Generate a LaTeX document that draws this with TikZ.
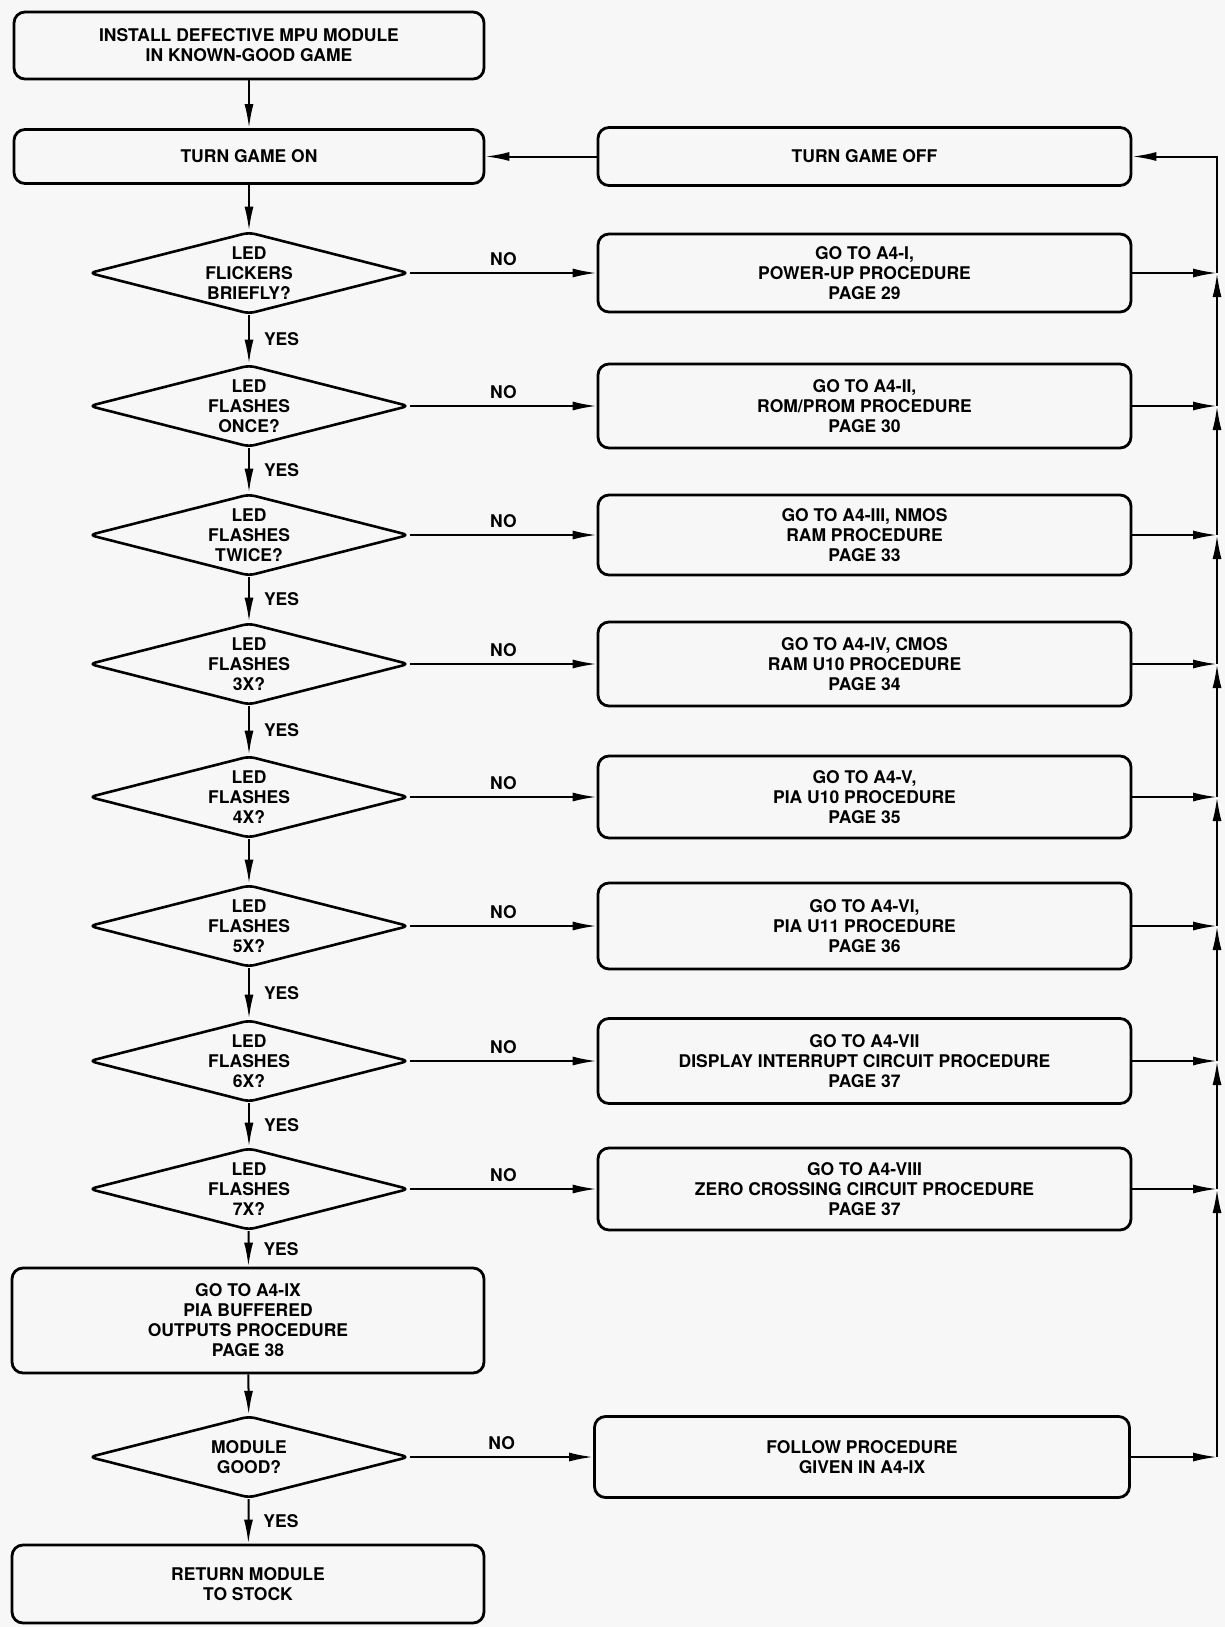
\documentclass[tikz,border=0pt]{standalone}
\usepackage{fontspec}
\setmainfont{TeX Gyre Heros}
\usetikzlibrary{arrows.meta,shapes.geometric,calc}
\begin{document}
\begin{tikzpicture}[x=1pt,y=-1pt,
  every node/.style={font=\bfseries\fontsize{17.5}{20}\selectfont},
  lbox/.style={draw, line width=2.8pt, rounded corners=11pt, align=center, inner sep=0pt, minimum width=470pt},
  rbox/.style={draw, line width=2.8pt, rounded corners=11pt, align=center, inner sep=0pt, minimum width=533pt},
  dia/.style={draw, line width=2.6pt, shape=diamond, aspect=3.5, inner sep=0pt, rounded corners=6pt, align=center, minimum width=320pt, minimum height=82pt},
  arr/.style={line width=2pt, -{Latex[length=24pt,width=9pt]}},
  lbl/.style={inner sep=0pt}
]
\fill[black!3] (0,0) rectangle (1225,1627);
\useasboundingbox (0,0) rectangle (1225,1627);

% left column
\node[lbox, minimum height=67pt] (install) at (249,45.5) {INSTALL DEFECTIVE MPU MODULE\\IN KNOWN-GOOD GAME};
\node[lbox, minimum height=54pt] (turnon) at (249,156.5) {TURN GAME ON};
\node[dia] (d1) at (249,273) {LED\\FLICKERS\\BRIEFLY?};
\node[dia] (d2) at (249,406) {LED\\FLASHES\\ONCE?};
\node[dia] (d3) at (249,535) {LED\\FLASHES\\TWICE?};
\node[dia] (d4) at (249,664) {LED\\FLASHES\\3X?};
\node[dia] (d5) at (249,797) {LED\\FLASHES\\4X?};
\node[dia] (d6) at (249,926) {LED\\FLASHES\\5X?};
\node[dia] (d7) at (249,1061) {LED\\FLASHES\\6X?};
\node[dia] (d8) at (249,1189) {LED\\FLASHES\\7X?};
\node[lbox, minimum width=472pt, minimum height=105pt] (ix) at (248,1320.5) {GO TO A4-IX\\PIA BUFFERED\\OUTPUTS PROCEDURE\\PAGE 38};
\node[dia] (d9) at (249,1457) {MODULE\\GOOD?};
\node[lbox, minimum width=472pt, minimum height=78pt] (ret) at (248,1584) {RETURN MODULE\\TO STOCK};

% right column
\node[rbox, minimum height=58pt] (turnoff) at (864.5,156.5) {TURN GAME OFF};
\node[rbox, minimum height=78pt] (b1) at (864.5,273) {GO TO A4-I,\\POWER-UP PROCEDURE\\PAGE 29};
\node[rbox, minimum height=84pt] (b2) at (864.5,406) {GO TO A4-II,\\ROM/PROM PROCEDURE\\PAGE 30};
\node[rbox, minimum height=80pt] (b3) at (864.5,535) {GO TO A4-III, NMOS\\RAM PROCEDURE\\PAGE 33};
\node[rbox, minimum height=84pt] (b4) at (864.5,664) {GO TO A4-IV, CMOS\\RAM U10 PROCEDURE\\PAGE 34};
\node[rbox, minimum height=82pt] (b5) at (864.5,797) {GO TO A4-V,\\PIA U10 PROCEDURE\\PAGE 35};
\node[rbox, minimum height=86pt] (b6) at (864.5,926) {GO TO A4-VI,\\PIA U11 PROCEDURE\\PAGE 36};
\node[rbox, minimum height=85pt] (b7) at (864.5,1061) {GO TO A4-VII\\DISPLAY INTERRUPT CIRCUIT PROCEDURE\\PAGE 37};
\node[rbox, minimum height=82pt] (b8) at (864.5,1189) {GO TO A4-VIII\\ZERO CROSSING CIRCUIT PROCEDURE\\PAGE 37};
\node[rbox, minimum width=535pt, minimum height=81pt] (follow) at (862,1457) {FOLLOW PROCEDURE\\GIVEN IN A4-IX};

% return line coordinates
\coordinate (rx) at (1217,0);
\coordinate (j0) at (turnoff.east -| rx);
\coordinate (j1) at (b1.east -| rx);
\coordinate (j2) at (b2.east -| rx);
\coordinate (j3) at (b3.east -| rx);
\coordinate (j4) at (b4.east -| rx);
\coordinate (j5) at (b5.east -| rx);
\coordinate (j6) at (b6.east -| rx);
\coordinate (j7) at (b7.east -| rx);
\coordinate (j8) at (b8.east -| rx);
\coordinate (j9) at (follow.east -| rx);

% spine
\draw[arr] (install) -- (turnon);
\draw[arr] (turnon) -- (d1);
\draw[arr] (d1) -- node[lbl, right=14pt] {YES} (d2);
\draw[arr] (d2) -- node[lbl, right=14pt] {YES} (d3);
\draw[arr] (d3) -- node[lbl, right=14pt] {YES} (d4);
\draw[arr] (d4) -- node[lbl, right=14pt] {YES} (d5);
\draw[arr] (d5) -- (d6);
\draw[arr] (d6) -- node[lbl, right=14pt] {YES} (d7);
\draw[arr] (d7) -- node[lbl, right=14pt] {YES} (d8);
\draw[arr] (d8) -- node[lbl, right=14pt] {YES} (ix);
\draw[arr] (ix) -- (d9);
\draw[arr] (d9) -- node[lbl, right=14pt] {YES} (ret);

% NO branches
\draw[arr] (d1.east) -- node[lbl, above=6pt] {NO} (b1.west);
\draw[arr] (d2.east) -- node[lbl, above=6pt] {NO} (b2.west);
\draw[arr] (d3.east) -- node[lbl, above=6pt] {NO} (b3.west);
\draw[arr] (d4.east) -- node[lbl, above=6pt] {NO} (b4.west);
\draw[arr] (d5.east) -- node[lbl, above=6pt] {NO} (b5.west);
\draw[arr] (d6.east) -- node[lbl, above=6pt] {NO} (b6.west);
\draw[arr] (d7.east) -- node[lbl, above=6pt] {NO} (b7.west);
\draw[arr] (d8.east) -- node[lbl, above=6pt] {NO} (b8.west);
\draw[arr] (d9.east) -- node[lbl, above=6pt] {NO} (follow.west);

% turn off -> turn on
\draw[arr] (turnoff.west) -- (turnon.east);

% outputs to return line
\draw[arr] (b1.east) -- (j1);
\draw[arr] (b2.east) -- (j2);
\draw[arr] (b3.east) -- (j3);
\draw[arr] (b4.east) -- (j4);
\draw[arr] (b5.east) -- (j5);
\draw[arr] (b6.east) -- (j6);
\draw[arr] (b7.east) -- (j7);
\draw[arr] (b8.east) -- (j8);
\draw[arr] (follow.east) -- (j9);

% return line upward
\draw[arr] (j9) -- (j8);
\draw[arr] (j8) -- (j7);
\draw[arr] (j7) -- (j6);
\draw[arr] (j6) -- (j5);
\draw[arr] (j5) -- (j4);
\draw[arr] (j4) -- (j3);
\draw[arr] (j3) -- (j2);
\draw[arr] (j2) -- (j1);
\draw[arr] (j1) -- (j0) -- (turnoff.east);
\end{tikzpicture}
\end{document}
